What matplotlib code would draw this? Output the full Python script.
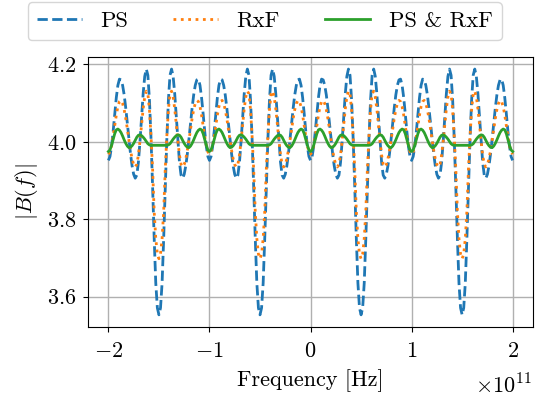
import numpy as np
import matplotlib
matplotlib.use("Agg")
import matplotlib.pyplot as plt

plt.rcParams['font.family'] = 'serif'
plt.rcParams['font.serif'] = ['cmr10']
plt.rcParams['mathtext.fontset'] = 'cm'
plt.rcParams['axes.formatter.use_mathtext'] = True
plt.rcParams['axes.unicode_minus'] = True
plt.rcParams['font.size'] = 16

# frequency samples in Hz, 1/64 of 1e11 spacing
freq = np.linspace(-2e11, 2e11, 257)

# |B(f)|, 4 rows = one 1e11 Hz period
ps = [
    3.952, 3.962, 3.988, 4.027, 4.072, 4.114, 4.146, 4.162, 4.160, 4.146, 4.121, 4.087, 4.048, 4.007, 3.969, 3.938,
    3.916, 3.906, 3.914, 3.947, 4.001, 4.064, 4.124, 4.169, 4.188, 4.172, 4.108, 4.007, 3.883, 3.750, 3.635, 3.571,
    3.553, 3.571, 3.635, 3.750, 3.883, 4.007, 4.108, 4.172, 4.188, 4.169, 4.124, 4.064, 4.001, 3.947, 3.914, 3.906,
    3.916, 3.938, 3.969, 4.007, 4.048, 4.087, 4.121, 4.146, 4.160, 4.162, 4.146, 4.114, 4.072, 4.027, 3.988, 3.962,

    3.952, 3.962, 3.988, 4.027, 4.072, 4.114, 4.146, 4.162, 4.160, 4.146, 4.121, 4.087, 4.048, 4.007, 3.969, 3.938,
    3.916, 3.906, 3.914, 3.947, 4.001, 4.064, 4.124, 4.169, 4.188, 4.172, 4.108, 4.007, 3.883, 3.750, 3.635, 3.571,
    3.553, 3.571, 3.635, 3.750, 3.883, 4.007, 4.108, 4.172, 4.188, 4.169, 4.124, 4.064, 4.001, 3.947, 3.914, 3.906,
    3.916, 3.938, 3.969, 4.007, 4.048, 4.087, 4.121, 4.146, 4.160, 4.162, 4.146, 4.114, 4.072, 4.027, 3.988, 3.962,

    3.952, 3.962, 3.988, 4.027, 4.072, 4.114, 4.146, 4.162, 4.160, 4.146, 4.121, 4.087, 4.048, 4.007, 3.969, 3.938,
    3.916, 3.906, 3.914, 3.947, 4.001, 4.064, 4.124, 4.169, 4.188, 4.172, 4.108, 4.007, 3.883, 3.750, 3.635, 3.571,
    3.553, 3.571, 3.635, 3.750, 3.883, 4.007, 4.108, 4.172, 4.188, 4.169, 4.124, 4.064, 4.001, 3.947, 3.914, 3.906,
    3.916, 3.938, 3.969, 4.007, 4.048, 4.087, 4.121, 4.146, 4.160, 4.162, 4.146, 4.114, 4.072, 4.027, 3.988, 3.962,

    3.952, 3.962, 3.988, 4.027, 4.072, 4.114, 4.146, 4.162, 4.160, 4.146, 4.121, 4.087, 4.048, 4.007, 3.969, 3.938,
    3.916, 3.906, 3.914, 3.947, 4.001, 4.064, 4.124, 4.169, 4.188, 4.172, 4.108, 4.007, 3.883, 3.750, 3.635, 3.571,
    3.553, 3.571, 3.635, 3.750, 3.883, 4.007, 4.108, 4.172, 4.188, 4.169, 4.124, 4.064, 4.001, 3.947, 3.914, 3.906,
    3.916, 3.938, 3.969, 4.007, 4.048, 4.087, 4.121, 4.146, 4.160, 4.162, 4.146, 4.114, 4.072, 4.027, 3.988, 3.962,

    3.952,
]
rxf = [
    3.968, 3.974, 3.990, 4.014, 4.042, 4.069, 4.091, 4.104, 4.107, 4.099, 4.083, 4.060, 4.033, 4.004, 3.978, 3.956,
    3.941, 3.935, 3.942, 3.966, 4.002, 4.045, 4.085, 4.116, 4.131, 4.124, 4.083, 4.014, 3.929, 3.820, 3.750, 3.710,
    3.698, 3.710, 3.750, 3.820, 3.929, 4.014, 4.083, 4.124, 4.131, 4.116, 4.085, 4.045, 4.002, 3.966, 3.942, 3.935,
    3.941, 3.956, 3.978, 4.004, 4.033, 4.060, 4.083, 4.099, 4.107, 4.104, 4.091, 4.069, 4.042, 4.014, 3.990, 3.974,

    3.968, 3.974, 3.990, 4.014, 4.042, 4.069, 4.091, 4.104, 4.107, 4.099, 4.083, 4.060, 4.033, 4.004, 3.978, 3.956,
    3.941, 3.935, 3.942, 3.966, 4.002, 4.045, 4.085, 4.116, 4.131, 4.124, 4.083, 4.014, 3.929, 3.820, 3.750, 3.710,
    3.698, 3.710, 3.750, 3.820, 3.929, 4.014, 4.083, 4.124, 4.131, 4.116, 4.085, 4.045, 4.002, 3.966, 3.942, 3.935,
    3.941, 3.956, 3.978, 4.004, 4.033, 4.060, 4.083, 4.099, 4.107, 4.104, 4.091, 4.069, 4.042, 4.014, 3.990, 3.974,

    3.968, 3.974, 3.990, 4.014, 4.042, 4.069, 4.091, 4.104, 4.107, 4.099, 4.083, 4.060, 4.033, 4.004, 3.978, 3.956,
    3.941, 3.935, 3.942, 3.966, 4.002, 4.045, 4.085, 4.116, 4.131, 4.124, 4.083, 4.014, 3.929, 3.820, 3.750, 3.710,
    3.698, 3.710, 3.750, 3.820, 3.929, 4.014, 4.083, 4.124, 4.131, 4.116, 4.085, 4.045, 4.002, 3.966, 3.942, 3.935,
    3.941, 3.956, 3.978, 4.004, 4.033, 4.060, 4.083, 4.099, 4.107, 4.104, 4.091, 4.069, 4.042, 4.014, 3.990, 3.974,

    3.968, 3.974, 3.990, 4.014, 4.042, 4.069, 4.091, 4.104, 4.107, 4.099, 4.083, 4.060, 4.033, 4.004, 3.978, 3.956,
    3.941, 3.935, 3.942, 3.966, 4.002, 4.045, 4.085, 4.116, 4.131, 4.124, 4.083, 4.014, 3.929, 3.820, 3.750, 3.710,
    3.698, 3.710, 3.750, 3.820, 3.929, 4.014, 4.083, 4.124, 4.131, 4.116, 4.085, 4.045, 4.002, 3.966, 3.942, 3.935,
    3.941, 3.956, 3.978, 4.004, 4.033, 4.060, 4.083, 4.099, 4.107, 4.104, 4.091, 4.069, 4.042, 4.014, 3.990, 3.974,

    3.968,
]
ps_rxf = [
    3.975, 3.979, 3.991, 4.006, 4.021, 4.031, 4.033, 4.030, 4.024, 4.015, 4.005, 3.996, 3.989, 3.985, 3.986, 3.990,
    3.996, 4.004, 4.012, 4.017, 4.018, 4.016, 4.012, 4.007, 4.001, 3.995, 3.992, 3.991, 3.991, 3.991, 3.991, 3.991,
    3.991, 3.991, 3.991, 3.991, 3.991, 3.991, 3.992, 3.995, 4.001, 4.007, 4.012, 4.016, 4.018, 4.017, 4.012, 4.004,
    3.996, 3.990, 3.986, 3.985, 3.989, 3.996, 4.005, 4.015, 4.024, 4.030, 4.033, 4.031, 4.021, 4.006, 3.991, 3.979,

    3.975, 3.979, 3.991, 4.006, 4.021, 4.031, 4.033, 4.030, 4.024, 4.015, 4.005, 3.996, 3.989, 3.985, 3.986, 3.990,
    3.996, 4.004, 4.012, 4.017, 4.018, 4.016, 4.012, 4.007, 4.001, 3.995, 3.992, 3.991, 3.991, 3.991, 3.991, 3.991,
    3.991, 3.991, 3.991, 3.991, 3.991, 3.991, 3.992, 3.995, 4.001, 4.007, 4.012, 4.016, 4.018, 4.017, 4.012, 4.004,
    3.996, 3.990, 3.986, 3.985, 3.989, 3.996, 4.005, 4.015, 4.024, 4.030, 4.033, 4.031, 4.021, 4.006, 3.991, 3.979,

    3.975, 3.979, 3.991, 4.006, 4.021, 4.031, 4.033, 4.030, 4.024, 4.015, 4.005, 3.996, 3.989, 3.985, 3.986, 3.990,
    3.996, 4.004, 4.012, 4.017, 4.018, 4.016, 4.012, 4.007, 4.001, 3.995, 3.992, 3.991, 3.991, 3.991, 3.991, 3.991,
    3.991, 3.991, 3.991, 3.991, 3.991, 3.991, 3.992, 3.995, 4.001, 4.007, 4.012, 4.016, 4.018, 4.017, 4.012, 4.004,
    3.996, 3.990, 3.986, 3.985, 3.989, 3.996, 4.005, 4.015, 4.024, 4.030, 4.033, 4.031, 4.021, 4.006, 3.991, 3.979,

    3.975, 3.979, 3.991, 4.006, 4.021, 4.031, 4.033, 4.030, 4.024, 4.015, 4.005, 3.996, 3.989, 3.985, 3.986, 3.990,
    3.996, 4.004, 4.012, 4.017, 4.018, 4.016, 4.012, 4.007, 4.001, 3.995, 3.992, 3.991, 3.991, 3.991, 3.991, 3.991,
    3.991, 3.991, 3.991, 3.991, 3.991, 3.991, 3.992, 3.995, 4.001, 4.007, 4.012, 4.016, 4.018, 4.017, 4.012, 4.004,
    3.996, 3.990, 3.986, 3.985, 3.989, 3.996, 4.005, 4.015, 4.024, 4.030, 4.033, 4.031, 4.021, 4.006, 3.991, 3.979,

    3.975,
]

fig = plt.figure(figsize=(5.41, 3.97), dpi=100)
ax = fig.add_axes([0.163, 0.176, 0.822, 0.681])

ax.plot(freq, ps, '--', color='#1f77b4', lw=2, label='PS')
ax.plot(freq, rxf, ':', color='#ff7f0e', lw=2, label='RxF')
ax.plot(freq, ps_rxf, '-', color='#2ca02c', lw=2, label='PS & RxF')

ax.set_xticks([-2e11, -1e11, 0, 1e11, 2e11])
ax.set_yticks([3.6, 3.8, 4.0, 4.2])
ax.tick_params(axis='x', pad=6.5)
ax.tick_params(axis='y', pad=5)
ax.grid(True, color='#b0b0b0', lw=1)
ax.set_xlabel('Frequency [Hz]', labelpad=6)
ax.set_ylabel(r'$|B(f)|$', labelpad=5)

# the x10^11 multiplier sits at the bottom right corner in the original
ax.xaxis.get_offset_text().set_visible(False)
fig.text(0.983, 0.0, r'$\times10^{11}$', ha='right', va='bottom')

fig.legend(loc='upper center', bbox_to_anchor=(0.489, 1.0), ncol=3, frameon=True,
           fontsize=16.3, borderaxespad=0.1)

fig.savefig('out.png', dpi=100)
